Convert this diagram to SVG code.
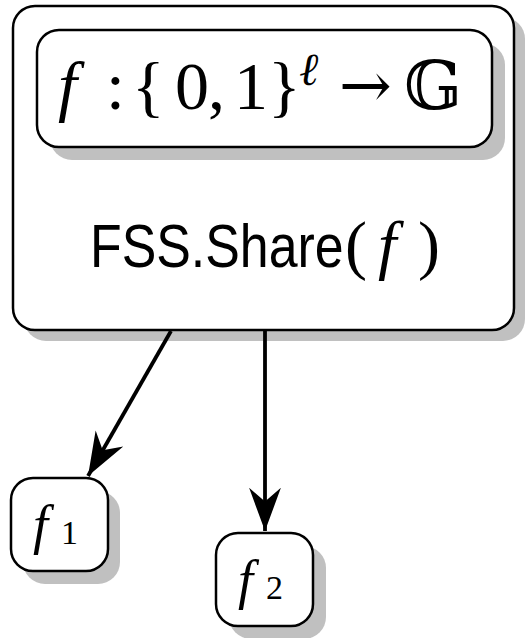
<svg xmlns="http://www.w3.org/2000/svg" width="525" height="638" viewBox="0 0 525 638">
<style>
.box{fill:#fff;stroke:#000;stroke-width:2.5}
.shadow{fill:#c0c0c0}
.math{font-family:"Liberation Serif","DejaVu Serif",serif;fill:#000}
.it{font-style:italic}
.sans{font-family:"Liberation Sans",Arial,sans-serif;fill:#000}
.edge{stroke:#000;stroke-width:3.8;fill:none}
</style>
<defs>
<marker id="stealth" markerUnits="userSpaceOnUse" markerWidth="50" markerHeight="40" viewBox="-40 -16 44 32" refX="0" refY="0" orient="auto">
<path d="M0,0 L-38,-14 L-26,0 L-38,14 Z" fill="#000"/>
</marker>
</defs>
<g id="share">
<rect class="shadow" x="24" y="17" width="501" height="324" rx="22"/>
<rect class="box" x="13" y="6" width="501" height="324" rx="22"/>
<text class="sans" transform="translate(90,267) scale(0.85,1)" font-size="61">FSS.Share</text>
<text class="math" y="267" font-size="66"><tspan x="345">(</tspan><tspan class="it" x="378">f</tspan><tspan x="418">)</tspan></text>
</g>
<g id="func">
<rect class="shadow" x="50" y="43" width="455" height="117" rx="22"/>
<rect class="box" x="37" y="30" width="455" height="117" rx="22"/>
<text class="math" y="109" font-size="68"><tspan class="it" x="58">f</tspan><tspan x="106">:</tspan><tspan x="132">{</tspan><tspan x="175">0</tspan><tspan x="208">,</tspan><tspan x="234">1</tspan><tspan x="268">}</tspan><tspan class="it" x="299" y="85" font-size="46">ℓ</tspan><tspan x="339" y="107" font-family="DejaVu Serif" font-size="63">→</tspan><tspan x="404" y="109">𝔾</tspan></text>
</g>
<g id="f1">
<rect class="shadow" x="23" y="491" width="97" height="93" rx="22"/>
<rect class="box" x="11" y="478" width="97" height="93" rx="22"/>
<text class="math" y="543"><tspan class="it" x="33" font-size="54">f</tspan><tspan x="61" y="544" font-size="34">1</tspan></text>
</g>
<g id="f2">
<rect class="shadow" x="229" y="546" width="97" height="93" rx="22"/>
<rect class="box" x="216" y="533" width="97" height="93" rx="22"/>
<text class="math" y="598"><tspan class="it" x="238" font-size="54">f</tspan><tspan x="266" y="599" font-size="34">2</tspan></text>
</g>
<g id="connectors">
<line class="edge" x1="171" y1="331" x2="88" y2="476" marker-end="url(#stealth)"/>
<line class="edge" x1="265" y1="331" x2="265" y2="531" marker-end="url(#stealth)"/>
</g>
</svg>
